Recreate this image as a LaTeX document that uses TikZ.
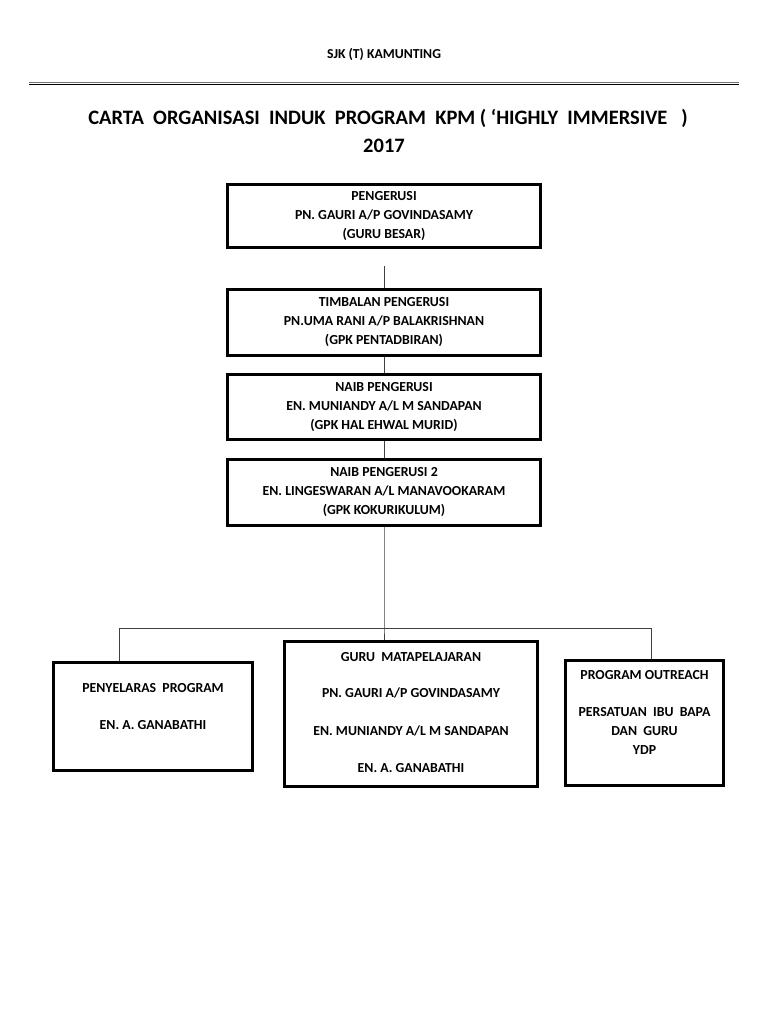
\documentclass[tikz,border=0pt]{standalone}
\usepackage{fontspec}
\setmainfont{Carlito}
\begin{document}
\begin{tikzpicture}[x=1pt,y=-1pt,
  box/.style={draw=black, line width=3pt, fill=white, align=center, inner sep=0pt},
  lbl/.style={font=\bfseries\fontsize{13.8}{19}\selectfont, align=center, inner sep=0pt},
  conn/.style={draw=black!75, line width=1pt}]
\useasboundingbox[fill=white] (0,0) rectangle (768,1024);
% header
\node[font=\bfseries\fontsize{13.7}{16}\selectfont, inner sep=0pt] (school) at (384,54) {SJK (T) KAMUNTING};
\draw[black!55, line width=0.8pt] (29,82) -- (739,82);
\draw[black, line width=1.4pt] (29,84.5) -- (739,84.5);
\node[font=\bfseries\fontsize{20.5}{24}\selectfont, inner sep=0pt] (title) at (388,118) {CARTA\ \ ORGANISASI\ \ INDUK\ \ PROGRAM\ \ KPM ( ‘HIGHLY\ \ IMMERSIVE\ \ \ )};
\node[font=\bfseries\fontsize{20.5}{24}\selectfont, inner sep=0pt] (year) at (384,146) {2017};
% top chain
\node[box, lbl, minimum width=313pt, minimum height=63pt] (b1) at (384,216) {PENGERUSI\\PN. GAURI A/P GOVINDASAMY\\(GURU BESAR)};
\node[box, lbl, minimum width=313pt, minimum height=66pt] (b2) at (384,322.5) {TIMBALAN PENGERUSI\\PN.UMA RANI A/P BALAKRISHNAN\\(GPK PENTADBIRAN)};
\node[box, lbl, minimum width=313pt, minimum height=65pt] (b3) at (384,407) {NAIB PENGERUSI\\EN. MUNIANDY A/L M SANDAPAN\\(GPK HAL EHWAL MURID)};
\node[box, lbl, minimum width=313pt, minimum height=66pt] (b4) at (384,492.5) {NAIB PENGERUSI 2\\EN. LINGESWARAN A/L MANAVOOKARAM\\(GPK KOKURIKULUM)};
% bottom boxes
\node[box, minimum width=199pt, minimum height=108pt] (b5) at (153,716.5) {};
\node[box, minimum width=253pt, minimum height=145pt] (b6) at (411,714) {};
\node[box, minimum width=158pt, minimum height=125pt] (b7) at (644.5,723) {};
\node[lbl] (t5a) at (153,688) {PENYELARAS\ \ PROGRAM};
\node[lbl] (t5b) at (153,725) {EN. A. GANABATHI};
\node[lbl] (t6a) at (411,657) {GURU\ \ MATAPELAJARAN};
\node[lbl] (t6b) at (411,693) {PN. GAURI A/P GOVINDASAMY};
\node[lbl] (t6c) at (411,731) {EN. MUNIANDY A/L M SANDAPAN};
\node[lbl] (t6d) at (411,768) {EN. A. GANABATHI};
\node[lbl] (t7a) at (644.5,675) {PROGRAM OUTREACH};
\node[lbl] (t7b) at (644.5,731) {PERSATUAN\ \ IBU\ \ BAPA\\DAN\ \ GURU\\YDP};
% connectors
\coordinate (c1) at (384,266);
\coordinate (jl) at (119,628);
\coordinate (jm) at (384,628);
\coordinate (jr) at (651,628);
\draw[conn] (c1) -- (b2.north);
\draw[conn] (b2.south) -- (b3.north);
\draw[conn] (b3.south) -- (b4.north);
\draw[conn] (b4.south) -- (jm) -- (jm |- b6.north);
\draw[conn] (jl |- b5.north) -- (jl) -- (jr) -- (jr |- b7.north);
\end{tikzpicture}
\end{document}
